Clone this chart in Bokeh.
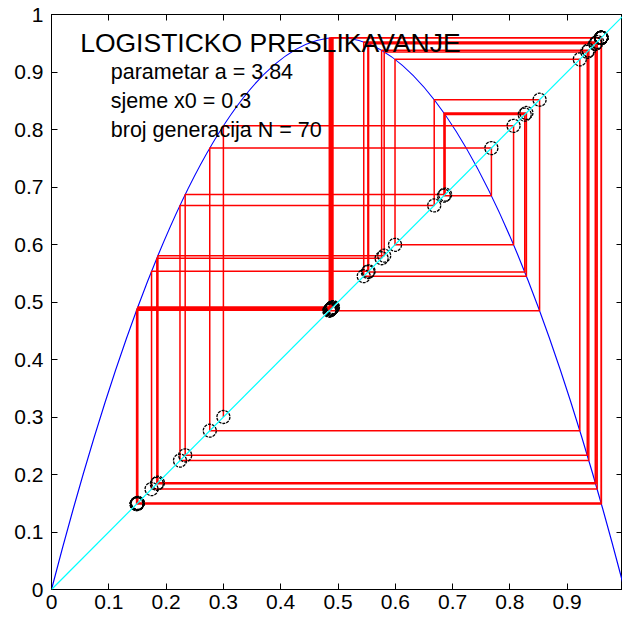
from bokeh.plotting import figure
from bokeh.models import LinearAxis, Range1d, Slope, FixedTicker
from bokeh.core.properties import value
from bokeh.embed import file_html
from bokeh.resources import INLINE

# ---- data ----
a = 3.84
x0 = 0.3
N = 70
domain = [0.0, 1.0]
orbit = [0.3000, 0.8064, 0.5995, 0.9220, 0.2762, 0.7677, 0.6849, 0.8288, 0.5449, 0.9523,
         0.1746, 0.5534, 0.9490, 0.1857, 0.5806, 0.9350, 0.2333, 0.6869, 0.8259, 0.5521,
         0.9496, 0.1838, 0.5761, 0.9377, 0.2242, 0.6679, 0.8518, 0.4848, 0.9591, 0.1506,
         0.4912, 0.9597, 0.1485, 0.4856, 0.9592, 0.1503, 0.4903, 0.9596, 0.1487, 0.4862,
         0.9593, 0.1501, 0.4897, 0.9596, 0.1489, 0.4866, 0.9593, 0.1499, 0.4893, 0.9596,
         0.1490, 0.4869, 0.9593, 0.1498, 0.4890, 0.9595, 0.1491, 0.4872, 0.9594, 0.1497,
         0.4888, 0.9595, 0.1492, 0.4874, 0.9594, 0.1496, 0.4886, 0.9595, 0.1492, 0.4875,
         0.9594]
ticks = [0, 0.1, 0.2, 0.3, 0.4, 0.5, 0.6, 0.7, 0.8, 0.9, 1]
title_text = "LOGISTICKO PRESLIKAVANJE"
info_lines = [f"parametar a = {a}", f"sjeme x0 = {x0}", f"broj generacija N = {N}"]

FONT = "Liberation Sans"

p = figure(width=622, height=619, output_backend="svg", toolbar_location=None,
           x_range=Range1d(0, 0.9965), y_range=Range1d(0, 1),
           min_border_left=51, min_border_right=0, min_border_top=14, min_border_bottom=30,
           x_axis_location=None, y_axis_location=None)
p.grid.visible = False
p.outline_line_color = "black"
p.outline_line_alpha = 1.0
p.background_fill_color = "white"
p.border_fill_color = "white"

def make_axis(show_labels):
    ax = LinearAxis(ticker=FixedTicker(ticks=ticks))
    ax.major_tick_in = 6
    ax.major_tick_out = 0
    ax.minor_tick_in = 0
    ax.minor_tick_out = 0
    ax.axis_line_color = "black"
    ax.major_tick_line_color = "black"
    if show_labels:
        ax.major_label_text_font = FONT
        ax.major_label_text_font_size = "21px"
        ax.major_label_text_color = "black"
    else:
        ax.major_label_overrides = {t: "" for t in ticks}
        ax.major_label_text_font_size = "1px"
        ax.major_label_standoff = 0
    return ax

bottom = make_axis(True)
bottom.major_label_standoff = 5
left = make_axis(True)
left.major_label_standoff = 8
top = make_axis(False)
right = make_axis(False)
p.add_layout(bottom, "below")
p.add_layout(left, "left")
p.add_layout(top, "above")
p.add_layout(right, "right")

# logistic parabola y = a x (1-x), drawn as its exact quadratic Bezier
p.quadratic(x0=domain[0], y0=0, x1=domain[1], y1=0,
            cx=(domain[0] + domain[1]) / 2, cy=a / 2,
            line_color="#0000FF", line_width=1.2)

# diagonal y = x
p.add_layout(Slope(gradient=1, y_intercept=0, line_color="#00FFFF", line_width=1.2))

# cobweb path
cx, cy = [orbit[0]], [orbit[0]]
for i in range(len(orbit) - 1):
    cx += [orbit[i], orbit[i + 1]]
    cy += [orbit[i + 1], orbit[i + 1]]
p.line(cx, cy, line_color="#FF0000", line_width=1.5)

# orbit points on the diagonal
p.scatter(orbit, orbit, marker="circle", size=13, fill_color=None,
          line_color="black", line_width=1.3, line_dash="3 1")

p.text(x=[0.05], y=[0.95], text=[title_text], text_font=value(FONT),
       text_font_size="26.5px", text_baseline="middle", text_align="left", text_color="black")
p.text(x=[0.1, 0.1, 0.1], y=[0.9, 0.85, 0.8], text=info_lines, text_font=value(FONT),
       text_font_size="21.5px", text_baseline="middle", text_align="left", text_color="black",
       x_offset=2)

open("out.html", "w").write(file_html(p, INLINE))
